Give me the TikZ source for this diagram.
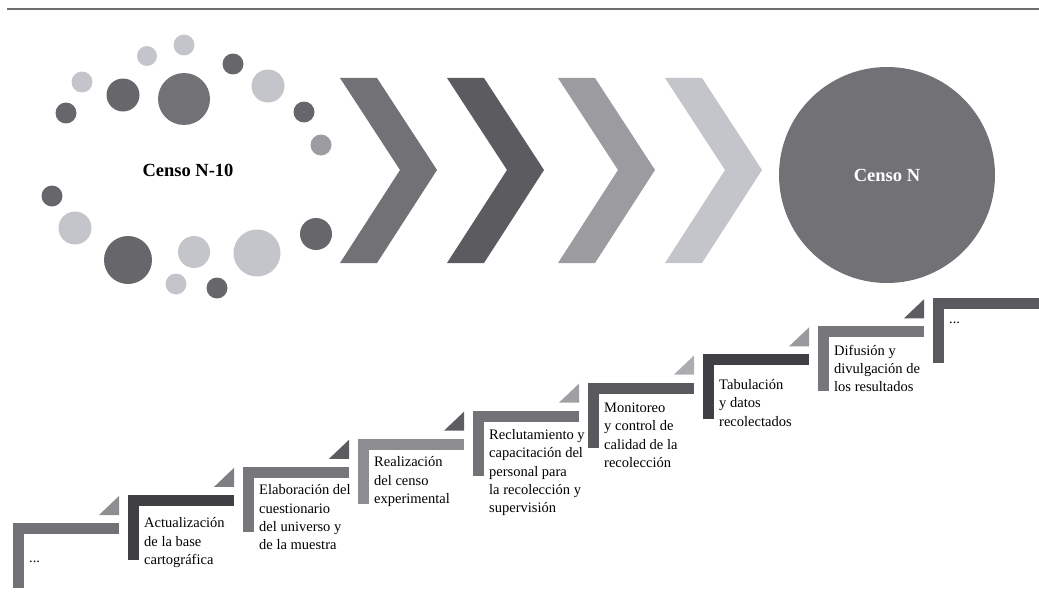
\documentclass[tikz,border=0pt]{standalone}
\usepackage{fontspec}
\setmainfont{Liberation Serif}
\usepackage{tikz}

\definecolor{rulegray}{HTML}{6E6E70}
\definecolor{dotdark}{HTML}{67666A}
\definecolor{dotmid}{HTML}{727175}
\definecolor{dotsoft}{HTML}{9D9CA0}
\definecolor{dotlight}{HTML}{C4C5CA}
\definecolor{chevA}{HTML}{727175}
\definecolor{chevB}{HTML}{5C5B60}
\definecolor{chevC}{HTML}{9C9B9F}
\definecolor{chevD}{HTML}{C4C5CA}
\definecolor{barA}{HTML}{727175}
\definecolor{barB}{HTML}{403F43}
\definecolor{barC}{HTML}{77767A}
\definecolor{barD}{HTML}{8D8C90}
\definecolor{barE}{HTML}{737276}
\definecolor{barF}{HTML}{5A595D}
\definecolor{triA}{HTML}{8E8D91}
\definecolor{triB}{HTML}{7F7E82}
\definecolor{triC}{HTML}{5D5C60}
\definecolor{triD}{HTML}{A09FA3}
\definecolor{triE}{HTML}{ADACB0}
\definecolor{triF}{HTML}{9A999D}

\newcommand{\stagetext}[1]{\parbox[t]{115pt}{\raggedright #1}}

\tikzset{
  steptext/.style={anchor=base west, inner sep=0pt,
    font=\fontsize{14.5}{18.3}\selectfont},
  censotext/.style={font=\fontsize{18.5}{20}\selectfont\bfseries}
}

\begin{document}
\begin{tikzpicture}[x=1pt,y=-1pt]
  \useasboundingbox (0,0) rectangle (1039,610);
  % top rule
  \draw[rulegray, line width=1.5pt] (7,9) -- (1039,9);

  % ring of dots round the previous census
  \fill[dotlight] (184,45) circle (10.5);
  \fill[dotlight] (147,56) circle (10);
  \fill[dotdark]  (233,64) circle (10.5);
  \fill[dotlight] (82,82) circle (10.5);
  \fill[dotdark]  (123,95) circle (16.5);
  \fill[dotmid]   (184,99) circle (26);
  \fill[dotlight] (268,86) circle (16.5);
  \fill[dotdark]  (66,113) circle (10.5);
  \fill[dotdark]  (304,112) circle (10.5);
  \fill[dotsoft]  (321,145) circle (10.5);
  \fill[dotdark]  (52,196) circle (10.5);
  \fill[dotlight] (75,228) circle (16.5);
  \fill[dotdark]  (128,260) circle (24);
  \fill[dotlight] (194,252) circle (16);
  \fill[dotlight] (257,253) circle (23.5);
  \fill[dotdark]  (316,234) circle (16);
  \fill[dotlight] (176,284) circle (10.5);
  \fill[dotdark]  (217,288) circle (10.5);
  \node[censotext] (censoprev) at (188,170) {Censo N-10};

  % chevrons
  \fill[chevA] (340,78) -- (377,78) -- (437,170) -- (377,263) -- (340,263) -- (400,170) -- cycle;
  \fill[chevB] (447,78) -- (484,78) -- (544,170) -- (484,263) -- (447,263) -- (507,170) -- cycle;
  \fill[chevC] (558,78) -- (595,78) -- (655,170) -- (595,263) -- (558,263) -- (618,170) -- cycle;
  \fill[chevD] (665,78) -- (702,78) -- (762,170) -- (702,263) -- (665,263) -- (725,170) -- cycle;

  % next census
  \node[circle, fill=dotmid, minimum size=216pt, inner sep=0pt] (censonext) at (887,175) {};
  \node[censotext, white] (censonextlbl) at (censonext) {Censo N};

  % stair of stages
  \foreach \i/\bc/\tc/\dy/\txt in {
      0/barA/triA/28/{...},
      1/barB/triB/22/{Actualización\\de la base\\cartográfica},
      2/barC/triC/17/{Elaboración del\\cuestionario\\del universo y\\de la muestra},
      3/barD/triC/17/{Realización\\del censo\\experimental},
      4/barE/triD/18/{Reclutamiento y\\capacitación del\\personal para\\la recolección y\\supervisión},
      5/barF/triE/19/{Monitoreo\\y control de\\calidad de la\\recolección},
      6/barB/triF/24/{Tabulación\\y datos\\recolectados},
      7/barC/triC/18/{Difusión y\\divulgación de\\los resultados},
      8/barF/triC/14/{...}} {
    \pgfmathsetmacro\sx{13+115*\i}
    \pgfmathsetmacro\sy{523-28.1*\i}
    \fill[\bc] (\sx,\sy) rectangle ++(106,11);
    \fill[\bc] (\sx,\sy) rectangle ++(11,65);
    \ifnum\i<8
      \fill[\tc] (\sx+86,\sy-8) -- ++(20,0) -- ++(0,-19) -- cycle;
    \fi
    \node[steptext] (step\i) at (\sx+16,\sy+11+\dy) {\stagetext{\txt}};
  }
\end{tikzpicture}
\end{document}
